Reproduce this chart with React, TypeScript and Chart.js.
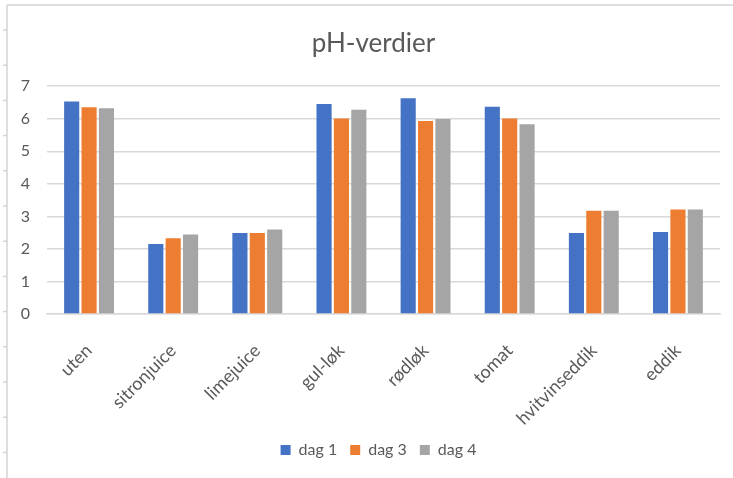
import React, { useEffect, useRef } from "react";
import { Chart, registerables } from "chart.js";

Chart.register(...registerables);

const categories = ["uten", "sitronjuice", "limejuice", "gul-løk", "rødløk", "tomat", "hvitvinseddik", "eddik"];
const dag1 = [6.53, 2.15, 2.49, 6.45, 6.63, 6.37, 2.49, 2.52];
const dag3 = [6.35, 2.33, 2.49, 6.01, 5.93, 6.01, 3.17, 3.21];
const dag4 = [6.32, 2.44, 2.6, 6.28, 5.99, 5.83, 3.17, 3.21];
const seriesNames = ["dag 1", "dag 3", "dag 4"];
const yTicks = [0, 1, 2, 3, 4, 5, 6, 7];

const FONT = "Lato, 'Open Sans', sans-serif";
const TEXT = "#595959";

const framePlugin = {
  id: "frame",
  beforeDraw(chart: any) {
    const ctx = chart.ctx;
    ctx.save();
    ctx.fillStyle = "#ffffff";
    ctx.fillRect(0, 0, chart.width, chart.height);
    ctx.strokeStyle = "#d4d4d4";
    ctx.lineWidth = 1.5;
    ctx.beginPath();
    ctx.moveTo(7, 5);
    ctx.lineTo(chart.width, 5);
    ctx.moveTo(7, 5);
    ctx.lineTo(7, chart.height);
    for (let y = 30; y < chart.height; y += 35.2) {
      ctx.moveTo(3, y);
      ctx.lineTo(7, y);
    }
    ctx.stroke();
    ctx.restore();
  },
};

// shift centred title / legend slightly right, as in the reference
const shiftPlugin = {
  id: "shift",
  afterLayout(chart: any) {
    if (chart.legend) {
      chart.legend.left += 15;
      chart.legend.right += 15;
    }
    if (chart.titleBlock) {
      chart.titleBlock.left += 10;
      chart.titleBlock.right += 10;
    }
  },
};

export default function App() {
  const ref = useRef<HTMLCanvasElement>(null);
  useEffect(() => {
    const colors = ["#4472C4", "#ED7D31", "#A5A5A5"];
    const data = [dag1, dag3, dag4];
    const chart = new Chart(ref.current!, {
      type: "bar",
      data: {
        labels: categories,
        datasets: seriesNames.map((n, i) => ({
          label: n,
          data: data[i],
          backgroundColor: colors[i],
          borderWidth: 0,
          categoryPercentage: 0.62,
          barPercentage: 0.87,
        })),
      },
      options: {
        responsive: false,
        animation: false,
        layout: { padding: { left: 7, right: 13, top: 5, bottom: 10 } },
        plugins: {
          title: {
            display: true,
            text: "pH-verdier",
            color: TEXT,
            font: { family: FONT, size: 26, weight: "normal" },
            padding: { top: 23, bottom: 27 },
          },
          legend: {
            position: "bottom",
            labels: {
              color: TEXT,
              font: { family: FONT, size: 16 },
              boxWidth: 10,
              boxHeight: 10,
              padding: 13,
            },
          },
          tooltip: { enabled: false },
        },
        scales: {
          x: {
            grid: { display: false },
            border: { display: true, color: "#d9d9d9", width: 1.5 },
            afterFit: (s: any) => {
              s.height = 115;
            },
            ticks: {
              color: TEXT,
              font: { family: FONT, size: 18 },
              maxRotation: 45,
              minRotation: 45,
              padding: 18,
            },
          },
          y: {
            min: 0,
            max: 7,
            afterBuildTicks: (s: any) => {
              s.ticks = yTicks.map((v) => ({ value: v }));
            },
            afterFit: (s: any) => {
              s.width = 40;
            },
            grid: { color: "#d9d9d9", lineWidth: 1.5, drawTicks: false },
            border: { display: false },
            ticks: {
              color: TEXT,
              font: { family: FONT, size: 16 },
              padding: 17,
            },
          },
        },
      },
      plugins: [framePlugin, shiftPlugin],
    });
    return () => chart.destroy();
  }, []);
  return (
    <div style={{ position: "fixed", left: 0, top: 0, width: 733, height: 478 }}>
      <canvas ref={ref} width={733} height={478} />
    </div>
  );
}
